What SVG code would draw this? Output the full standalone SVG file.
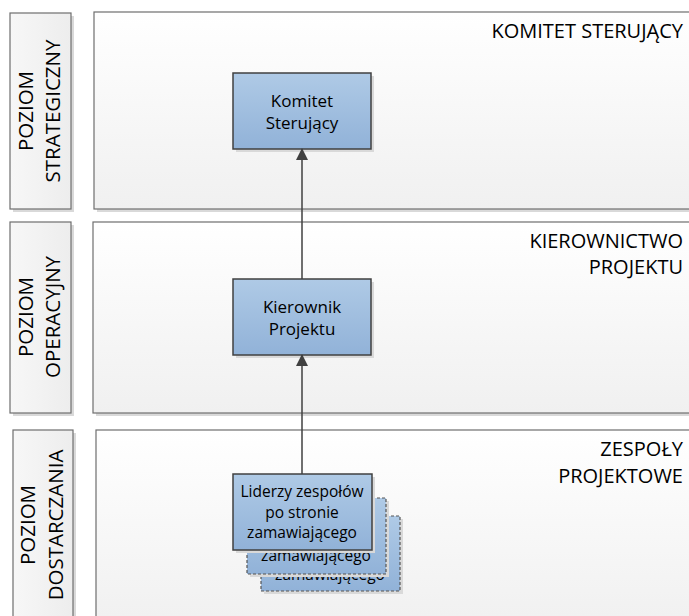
<svg xmlns="http://www.w3.org/2000/svg" width="689" height="616" viewBox="0 0 689 616">
  <defs>
    <linearGradient id="laneFill" x1="0" y1="0" x2="0" y2="1">
      <stop offset="0" stop-color="#ffffff"/>
      <stop offset="1" stop-color="#f0f0f0"/>
    </linearGradient>
    <linearGradient id="tagFill" x1="0" y1="0" x2="1" y2="0">
      <stop offset="0" stop-color="#f7f7f7"/>
      <stop offset="1" stop-color="#ededed"/>
    </linearGradient>
    <linearGradient id="nodeFill" x1="0" y1="0" x2="0" y2="1">
      <stop offset="0" stop-color="#afcae6"/>
      <stop offset="1" stop-color="#91b2d8"/>
    </linearGradient>
    <marker id="arrow" viewBox="0 0 12 12" refX="11" refY="6" markerWidth="12" markerHeight="12" markerUnits="userSpaceOnUse" orient="auto">
      <path d="M0,0 L12,6 L0,12 Z" fill="#404040"/>
    </marker>
    <style>
      .shadow { fill: #d9d9d9; }
      .lane { fill: url(#laneFill); stroke: #6e6e6e; stroke-width: 1.2; }
      .tag { fill: url(#tagFill); stroke: #6e6e6e; stroke-width: 1.2; }
      .node { fill: url(#nodeFill); stroke: #404040; stroke-width: 1.5; }
      .node-back { fill: url(#nodeFill); stroke: #555555; stroke-width: 1.2; stroke-dasharray: 3 2; }
      .label { font-family: "Open Sans", "Liberation Sans", sans-serif; fill: #000000; }
      .lane-title { font-size: 20px; text-anchor: end; }
      .tag-text { font-size: 20.5px; text-anchor: middle; }
      .node-text { font-size: 17px; text-anchor: middle; }
      .team-text { font-size: 15.5px; text-anchor: middle; }
      .edge { stroke: #404040; stroke-width: 1.5; fill: none; marker-end: url(#arrow); }
    </style>
  </defs>

  <!-- level tags on the left -->
  <g id="tag-strategic">
    <rect class="shadow" x="13" y="16" width="61" height="196"/>
    <rect class="tag" x="10" y="13" width="61" height="196"/>
    <text class="label tag-text" transform="translate(33,111) rotate(-90)">POZIOM</text>
    <text class="label tag-text" transform="translate(60,111) rotate(-90)">STRATEGICZNY</text>
  </g>
  <g id="tag-operational">
    <rect class="shadow" x="13" y="225" width="61" height="191"/>
    <rect class="tag" x="10" y="222" width="61" height="191"/>
    <text class="label tag-text" transform="translate(33,317) rotate(-90)">POZIOM</text>
    <text class="label tag-text" transform="translate(60,317) rotate(-90)">OPERACYJNY</text>
  </g>
  <g id="tag-delivery">
    <rect class="shadow" x="16" y="433" width="60" height="190"/>
    <rect class="tag" x="13" y="430" width="60" height="190"/>
    <text class="label tag-text" transform="translate(35,525) rotate(-90)">POZIOM</text>
    <text class="label tag-text" transform="translate(63,525) rotate(-90)">DOSTARCZANIA</text>
  </g>

  <!-- lanes -->
  <g id="lane-steering">
    <rect class="shadow" x="97" y="15" width="600" height="197"/>
    <rect class="lane" x="94" y="12" width="600" height="197"/>
    <text class="label lane-title" x="683" y="38">KOMITET STERUJĄCY</text>
  </g>
  <g id="lane-management">
    <rect class="shadow" x="96" y="225" width="600" height="191"/>
    <rect class="lane" x="93" y="222" width="600" height="191"/>
    <text class="label lane-title" x="683" y="248">KIEROWNICTWO</text>
    <text class="label lane-title" x="683" y="274">PROJEKTU</text>
  </g>
  <g id="lane-teams">
    <rect class="shadow" x="99" y="433" width="600" height="200"/>
    <rect class="lane" x="96" y="430" width="600" height="200"/>
    <text class="label lane-title" x="683" y="456">ZESPOŁY</text>
    <text class="label lane-title" x="683" y="483">PROJEKTOWE</text>
  </g>

  <!-- nodes -->
  <g id="node-steering-committee">
    <rect class="shadow" x="236" y="76" width="138" height="76"/>
    <rect class="node" x="233" y="73" width="138" height="76"/>
    <text class="label node-text" x="302" y="107">Komitet</text>
    <text class="label node-text" x="302" y="129">Sterujący</text>
  </g>
  <g id="node-project-manager">
    <rect class="shadow" x="236" y="282" width="138" height="76"/>
    <rect class="node" x="233" y="279" width="138" height="76"/>
    <text class="label node-text" x="302" y="313">Kierownik</text>
    <text class="label node-text" x="302" y="335">Projektu</text>
  </g>
  <g id="node-team-leaders">
    <!-- stacked copies behind the front card; only their last line shows -->
    <rect class="shadow" x="264" y="519" width="139" height="75"/>
    <rect class="node-back" x="261" y="516" width="139" height="75"/>
    <text class="label team-text" x="330" y="580">zamawiającego</text>
    <rect class="shadow" x="250" y="501" width="139" height="76"/>
    <rect class="node-back" x="247" y="498" width="139" height="76"/>
    <text class="label team-text" x="316" y="561">zamawiającego</text>
    <rect class="shadow" x="236" y="477" width="139" height="76"/>
    <rect class="node" x="233" y="474" width="139" height="76"/>
    <text class="label team-text" x="302" y="497">Liderzy zespołów</text>
    <text class="label team-text" x="302" y="518">po stronie</text>
    <text class="label team-text" x="302" y="538">zamawiającego</text>
  </g>

  <!-- connectors -->
  <g id="connectors">
    <line class="edge" x1="302" y1="474" x2="302" y2="355"/>
    <line class="edge" x1="302" y1="279" x2="302" y2="149"/>
  </g>
</svg>
